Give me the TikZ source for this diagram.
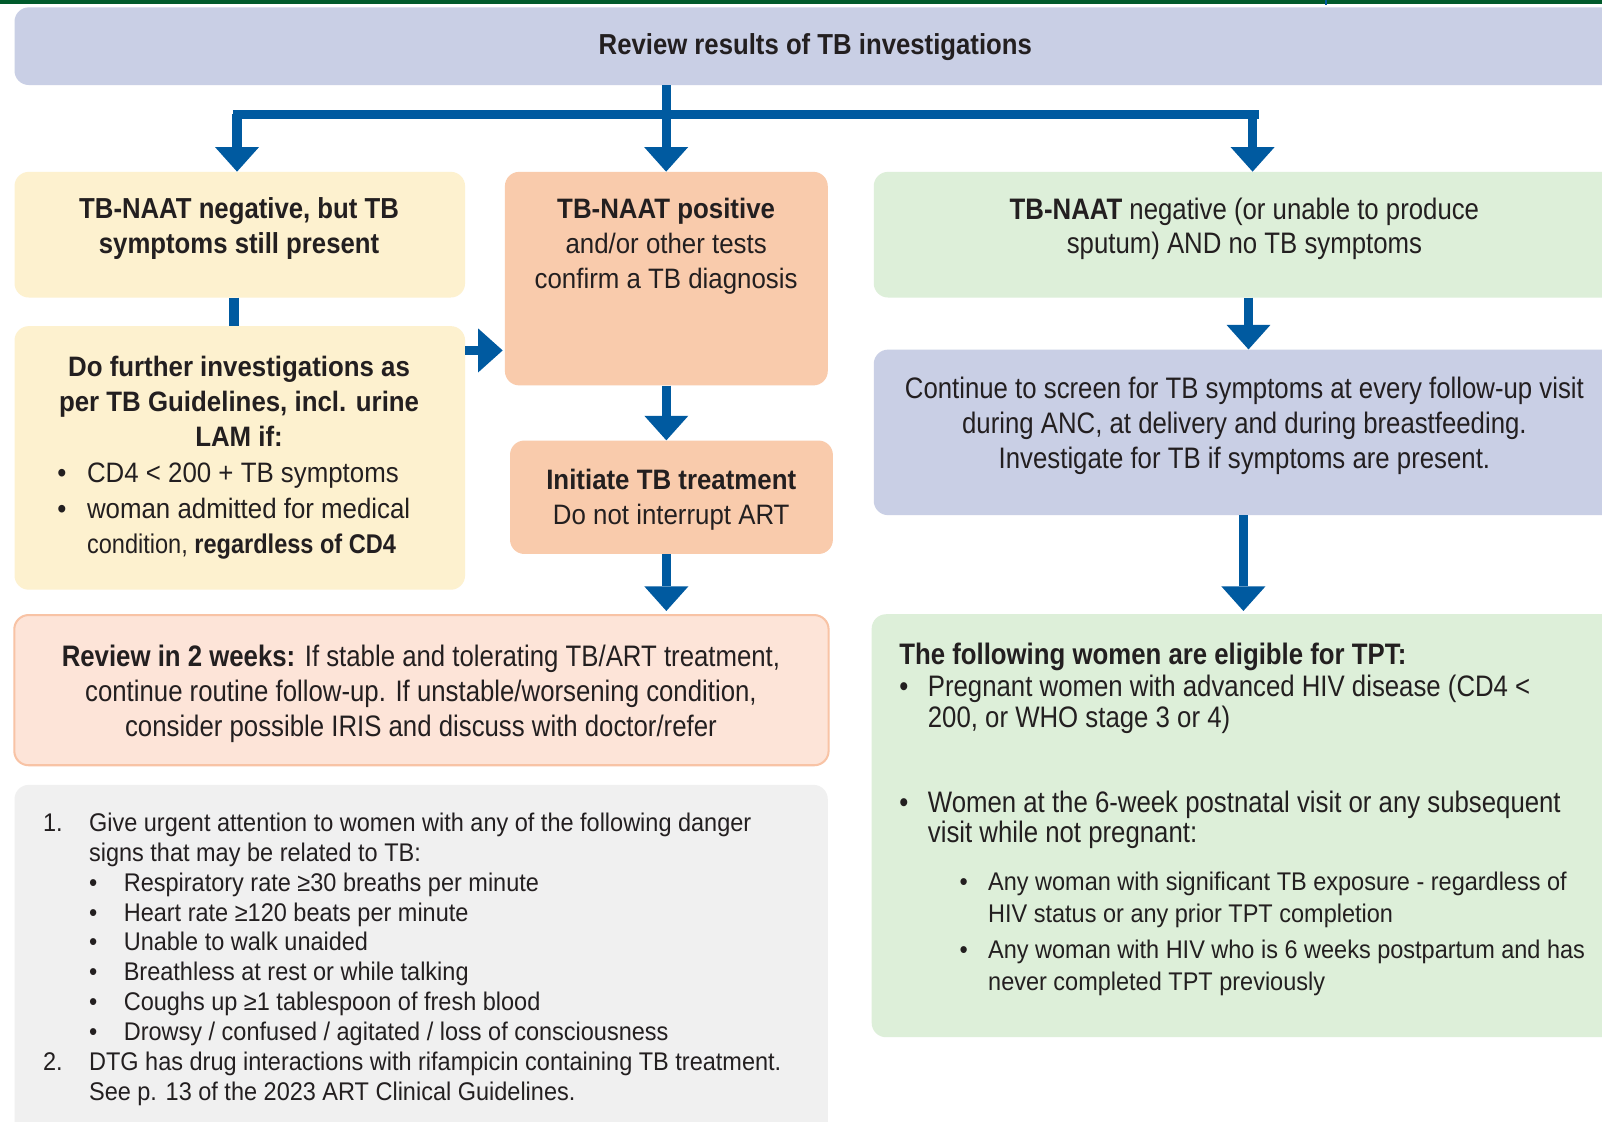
\documentclass[tikz,border=0pt]{standalone}
\usepackage{fontspec}
\setmainfont{Liberation Sans}[FakeStretch=0.92]
\newfontfamily\narrowA{Liberation Sans}[FakeStretch=0.89]
\newfontfamily\narrowB{Liberation Sans}[FakeStretch=0.87]
\usetikzlibrary{arrows.meta}
\definecolor{arrowblue}{RGB}{0,90,160}
\definecolor{topgreen}{RGB}{0,90,43}
\definecolor{lav}{RGB}{201,207,229}
\definecolor{paleyel}{RGB}{253,241,207}
\definecolor{peach}{RGB}{249,203,172}
\definecolor{lightpeach}{RGB}{253,228,216}
\definecolor{peachborder}{RGB}{248,195,165}
\definecolor{palegreen}{RGB}{221,239,217}
\definecolor{greybox}{RGB}{240,240,240}
\definecolor{ink}{RGB}{35,31,32}
\newcommand{\mainsize}{\fontsize{27.5}{34}\selectfont}
\newcommand{\narrowsize}{\narrowB\fontsize{29}{34}\selectfont}
\newcommand{\headsize}{\narrowA\fontsize{28.3}{34}\selectfont}
\begin{document}
\begin{tikzpicture}[x=1pt,y=-1pt,
  box/.style={rounded corners=14pt, inner sep=0pt, draw=none, anchor=north west},
  txt/.style={inner sep=0pt, text=ink, align=center, font=\mainsize},
  txtn/.style={inner sep=0pt, text=ink, align=center, font=\narrowsize},
  txtb/.style={inner sep=0pt, text=ink, align=center, font=\mainsize\bfseries},
  txth/.style={inner sep=0pt, text=ink, align=center, font=\headsize\bfseries},
  lst/.style={inner sep=0pt, text=ink, anchor=base west},
  stem/.style={draw=arrowblue, line width=9pt},
  bar/.style={draw=arrowblue, line width=9pt},
  arr/.style={stem, -{Triangle[width=43pt,length=24pt,line width=0pt]}},
]
\useasboundingbox (0,0) rectangle (1568,1098);
\clip (0,0) rectangle (1568,1098);
\fill[white] (0,0) rectangle (1568,1098);
\fill[topgreen] (0,0) rectangle (1568,4);
\draw[arrowblue, line width=2pt] (1298,0) -- (1298,5);

% boxes
\node[box, fill=lav, minimum width=1600pt, minimum height=76pt] (top) at (14,7) {};
\node[box, fill=paleyel, minimum width=441pt, minimum height=123pt] (A) at (14,168) {};
\node[box, fill=peach, minimum width=316pt, minimum height=209pt] (B) at (494,168) {};
\node[box, fill=palegreen, minimum width=745pt, minimum height=123pt] (C) at (855,168) {};
\node[box, fill=paleyel, minimum width=441pt, minimum height=258pt] (D) at (14,319) {};
\node[box, fill=peach, minimum width=316pt, minimum height=111pt] (E) at (499,431) {};
\node[box, fill=lightpeach, draw=peachborder, line width=2pt, minimum width=797pt, minimum height=147pt] (F) at (13,601) {};
\node[box, fill=greybox, minimum width=796pt, minimum height=360pt] (G) at (14,768) {};
\node[box, fill=lav, minimum width=745pt, minimum height=162pt] (H) at (855,342) {};
\node[box, fill=palegreen, minimum width=747pt, minimum height=414pt] (I) at (853,601) {};

% connectors
\coordinate (jL) at (232,112);
\coordinate (jC) at (652,112);
\coordinate (jR) at (1226,112);
\coordinate (barL) at (228,112);
\coordinate (barR) at (1232,112);
\coordinate (xAD) at (229,0);
\coordinate (yDB) at (0,343);
\coordinate (xCH) at (1222,0);
\coordinate (xHI) at (1217,0);
\draw[stem] (top.south -| jC) -- (jC);
\draw[bar] (barL) -- (barR);
\draw[arr] (jL) -- (jL |- A.north);
\draw[arr] (jC) -- (jC |- B.north);
\draw[arr] (jR) -- (jR |- C.north);
\draw[stem] (A.south -| xAD) -- (D.north -| xAD);
\draw[arr] (D.east |- yDB) -- ([xshift=-2pt]B.west |- yDB);
\draw[arr] (B.south) -- (B.south |- E.north);
\draw[arr] (B.south |- E.south) -- ([yshift=3pt]B.south |- F.north);
\draw[arr] (C.south -| xCH) -- (H.north -| xCH);
\draw[arr] (H.south -| xHI) -- ([yshift=3pt]I.north -| xHI);

% texts
\node[txth] (ttl) at (798,46) {Review results of TB investigations};
\node[txth] (tA) at (234,224) {TB-NAAT negative, but TB\\symptoms still present};
\node[txt] (tB) at (652,241) {\textbf{TB-NAAT positive}\\and/or other tests\\confirm a TB diagnosis};
\node[txtn] (tC) at (1218,224) {\textbf{TB-NAAT} negative (or unable to produce\\sputum) AND no TB symptoms};
\node[txtb] (tD) at (234,393) {Do further investigations as\\per TB Guidelines, incl. urine\\LAM if:};
\node[lst, font=\fontsize{27.5}{35}\selectfont] (tDl) at (56,472) {\begin{tabular}[t]{@{}p{29pt}@{}l@{}}
\textbullet & CD4 < 200 + TB symptoms\\
\textbullet & woman admitted for medical\\
 & \narrowB\fontsize{26.5}{35}\selectfont condition, \textbf{regardless of CD4}
\end{tabular}};
\node[txt] (tE) at (657,489) {\textbf{Initiate TB treatment}\\Do not interrupt ART};
\node[txtn] (tF) at (412,679) {\textbf{Review in 2 weeks:} If stable and tolerating TB/ART treatment,\\continue routine follow-up. If unstable/worsening condition,\\consider possible IRIS and discuss with doctor/refer};
\node[lst, font=\fontsize{25}{29.2}\selectfont] (tG) at (42,814) {\begin{tabular}[t]{@{}p{45pt}@{}p{34pt}@{}l@{}}
1. & \multicolumn{2}{@{}l@{}}{Give urgent attention to women with any of the following danger}\\
 & \multicolumn{2}{@{}l@{}}{signs that may be related to TB:}\\
 & \textbullet & Respiratory rate ≥30 breaths per minute\\
 & \textbullet & Heart rate ≥120 beats per minute\\
 & \textbullet & Unable to walk unaided\\
 & \textbullet & Breathless at rest or while talking\\
 & \textbullet & Coughs up ≥1 tablespoon of fresh blood\\
 & \textbullet & Drowsy / confused / agitated / loss of consciousness\\
2. & \multicolumn{2}{@{}l@{}}{DTG has drug interactions with rifampicin containing TB treatment.}\\
 & \multicolumn{2}{@{}l@{}}{See p. 13 of the 2023 ART Clinical Guidelines.}
\end{tabular}};
\node[txtn] (tH) at (1218,417) {Continue to screen for TB symptoms at every follow-up visit\\during ANC, at delivery and during breastfeeding.\\Investigate for TB if symptoms are present.};
\node[lst, font=\narrowsize\bfseries] (tI1) at (880,650) {The following women are eligible for TPT:};
\node[lst, font=\narrowB\fontsize{29}{30}\selectfont] (tI2) at (880,682) {\begin{tabular}[t]{@{}p{28pt}@{}l@{}}
\textbullet & Pregnant women with advanced HIV disease (CD4 <\\
 & 200, or WHO stage 3 or 4)
\end{tabular}};
\node[lst, font=\narrowB\fontsize{29}{30}\selectfont] (tI3) at (880,795) {\begin{tabular}[t]{@{}p{28pt}@{}l@{}}
\textbullet & Women at the 6-week postnatal visit or any subsequent\\
 & visit while not pregnant:
\end{tabular}};
\node[lst, font=\fontsize{25}{31}\selectfont] (tI4) at (939,872) {\begin{tabular}[t]{@{}p{28pt}@{}l@{}}
\textbullet & Any woman with significant TB exposure - regardless of\\
 & HIV status or any prior TPT completion\\[4pt]
\textbullet & Any woman with HIV who is 6 weeks postpartum and has\\
 & never completed TPT previously
\end{tabular}};
\end{tikzpicture}
\end{document}
